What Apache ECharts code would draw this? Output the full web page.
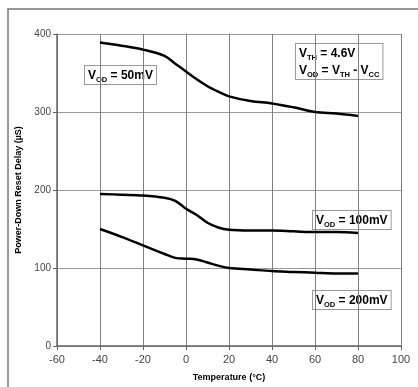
<!DOCTYPE html>
<html><head><meta charset="utf-8">
<script src="https://cdn.jsdelivr.net/npm/echarts@6/dist/echarts.min.js"></script>
<style>html,body{margin:0;padding:0;background:#fff}#c{width:418px;height:387px}</style>
</head><body><div id="c"></div>
<script>
const temps50 = [-40,-30,-20,-10,-5,0,5,10,15,20,30,40,50,60,70,80];
const vod50 = [389,385,380,372,362,352,342,333,326,320,314,311,306,300,298,295];
const temps100 = [-40,-30,-20,-10,-5,0,5,10,15,20,30,40,50,60,70,80];
const vod100 = [195,194,193,190,186,176,168,158,152,149,148,148,147,146,146,145];
const temps200 = [-40,-30,-20,-10,-5,0,5,10,15,20,30,40,50,60,70,80];
const vod200 = [150,140,129,118,113,112,111,107,103,100,98,96,95,94,93,93];
const xTicks = [-60,-40,-20,0,20,40,60,80,100];
const yTicks = [0,100,200,300,400];

const pair = (xs, ys) => xs.map((x, i) => [x, ys[i]]);
const chart = echarts.init(document.getElementById('c'), null, {renderer: 'canvas'});
const lineStyle = {color: '#000', width: 2.5};
const mk = (name, xs, ys) => ({
  name, type: 'line', data: pair(xs, ys), smooth: 0.35, showSymbol: false,
  lineStyle, itemStyle: {color: '#000'}, silent: true
});
const rich = {
  b: {fontFamily: 'Liberation Sans, Arial', fontWeight: 'bold', fontSize: 12, color: '#000', lineHeight: 17},
  s: {fontFamily: 'Liberation Sans, Arial', fontWeight: 'bold', fontSize: 7.5, color: '#000', verticalAlign: 'bottom', lineHeight: 17, padding: [5,0,0,0]}
};
const box = (left, top, text) => ({
  type: 'text', left, top,
  style: {text, rich, backgroundColor: '#fff', borderColor: '#999', borderWidth: 1, padding: [1,3,0,3]}
});
chart.setOption({
  animation: false,
  grid: {left: 57, top: 34, right: 17, bottom: 39, containLabel: false},
  xAxis: {
    type: 'value', min: -60, max: 100, interval: 20,
    name: 'Temperature (°C)', nameLocation: 'middle', nameGap: 27,
    nameTextStyle: {fontFamily: 'Liberation Sans, Arial', fontWeight: 'bold', fontSize: 9, color: '#000'},
    axisLine: {show: true, onZero: false, lineStyle: {color: '#666', width: 1.5}},
    axisTick: {show: true, length: 4, lineStyle: {color: '#666'}},
    axisLabel: {fontFamily: 'Liberation Sans, Arial', fontSize: 11, color: '#444', margin: 8,
      formatter: v => xTicks.includes(v) ? String(v) : ''},
    splitLine: {show: true, lineStyle: {color: '#808080', width: 1}}
  },
  yAxis: {
    type: 'value', min: 0, max: 400, interval: 100,
    name: 'Power-Down Reset Delay (µS)', nameLocation: 'middle', nameGap: 24,
    nameTextStyle: {fontFamily: 'Liberation Sans, Arial', fontWeight: 'bold', fontSize: 9, color: '#000'},
    axisLine: {show: true, onZero: false, lineStyle: {color: '#666', width: 1.5}},
    axisTick: {show: true, length: 4, lineStyle: {color: '#666'}},
    axisLabel: {fontFamily: 'Liberation Sans, Arial', fontSize: 10, color: '#444', margin: 6,
      formatter: v => yTicks.includes(v) ? String(v) : ''},
    splitLine: {show: true, lineStyle: {color: '#999', width: 1}}
  },
  series: [mk('50mV', temps50, vod50), mk('100mV', temps100, vod100), mk('200mV', temps200, vod200)],
  graphic: [
    {type: 'rect', shape: {x: 8, y: 9, width: 440, height: 400}, style: {fill: 'none', stroke: '#777', lineWidth: 1.5}, z: -10},
    box(84, 65, '{b|V}{s|OD}{b| = 50mV}'),
    box(295, 43, '{b|V}{s|TH}{b| = 4.6V}\n{b|V}{s|OD}{b| = V}{s|TH}{b| - V}{s|CC}'),
    box(312, 210, '{b|V}{s|OD}{b| = 100mV}'),
    box(312, 290, '{b|V}{s|OD}{b| = 200mV}')
  ]
});
</script></body></html>
